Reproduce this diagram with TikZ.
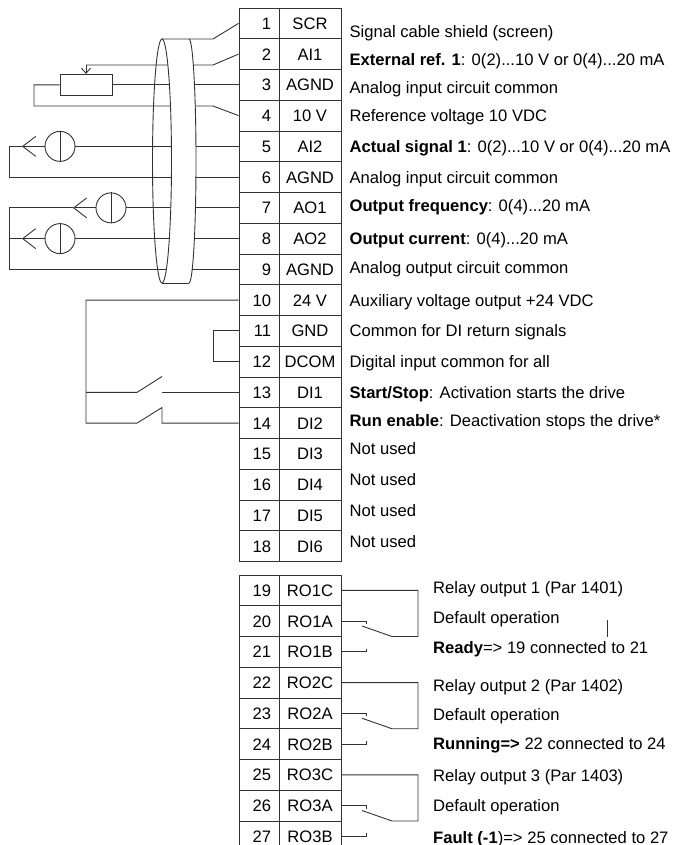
\documentclass[tikz,border=0pt]{standalone}
\usepackage{fontspec}
\setmainfont{Liberation Sans}
\usetikzlibrary{positioning,arrows.meta}

\tikzset{
  wire/.style={draw=black!80, line width=0.9pt},
  numcell/.style={draw=black!80, line width=0.9pt, minimum height=30.75pt, text width=24pt, inner xsep=8pt, align=right, text height=12pt, text depth=0pt},
  labcell/.style={draw=black!80, line width=0.9pt, minimum width=62pt, minimum height=30.75pt, inner xsep=0pt, text height=12pt, text depth=0pt},
  desc/.style={anchor=west, inner sep=0pt, text height=12pt, text depth=0pt},
  meter/.style={circle, draw=black!80, line width=0.9pt, minimum size=30pt, inner sep=0pt},
  pot/.style={rectangle, draw=black!80, line width=0.9pt, minimum width=52pt, minimum height=21pt, inner sep=0pt},
  barb/.style={-{Straight Barb[length=13pt,width=20pt]}},
}

\begin{document}
\begin{tikzpicture}[x=1pt, y=-1pt, every node/.style={font=\fontsize{16.6pt}{19pt}\selectfont}]
  \useasboundingbox (0,0) rectangle (676,845);

  % terminal block X1, 1...18
  \foreach \i/\lab in {1/SCR,2/AI1,3/AGND,4/10 V,5/AI2,6/AGND,7/AO1,8/AO2,9/AGND,10/24 V,11/GND,12/DCOM,13/DI1,14/DI2,15/DI3,16/DI4,17/DI5,18/DI6}{
    \pgfmathsetmacro\yc{8+(\i-0.5)*30.75}
    \node[numcell] (n\i) at (259,\yc) {\i};
    \node[labcell] (t\i) at (310,\yc) {\lab};
  }
  % relay block 19...27
  \foreach \i/\lab in {19/RO1C,20/RO1A,21/RO1B,22/RO2C,23/RO2A,24/RO2B,25/RO3C,26/RO3A,27/RO3B}{
    \pgfmathsetmacro\yc{575+(\i-18.5)*30.75}
    \node[numcell] (n\i) at (259,\yc) {\i};
    \node[labcell] (t\i) at (310,\yc) {\lab};
  }

  % descriptions
  \node[desc, right=8pt of t1, yshift=-8pt] {Signal cable shield (screen)};
  \node[desc, right=8pt of t2, yshift=-5pt] {\textbf{External ref. 1}: 0(2)...10 V or 0(4)...20 mA};
  \node[desc, right=8pt of t3, yshift=-3pt] {Analog input circuit common};
  \node[desc, right=8pt of t4] {Reference voltage 10 VDC};
  \node[desc, right=8pt of t5] {\textbf{Actual signal 1}: 0(2)...10 V or 0(4)...20 mA};
  \node[desc, right=8pt of t6] {Analog input circuit common};
  \node[desc, right=8pt of t7, yshift=2pt] {\textbf{Output frequency}: 0(4)...20 mA};
  \node[desc, right=8pt of t8] {\textbf{Output current}: 0(4)...20 mA};
  \node[desc, right=8pt of t9, yshift=2pt] {Analog output circuit common};
  \node[desc, right=8pt of t10] {Auxiliary voltage output +24 VDC};
  \node[desc, right=8pt of t11] {Common for DI return signals};
  \node[desc, right=8pt of t12] {Digital input common for all};
  \node[desc, right=8pt of t13] {\textbf{Start/Stop}: Activation starts the drive};
  \node[desc, right=8pt of t14, yshift=3pt] {\textbf{Run enable}: Deactivation stops the drive*};
  \node[desc, right=8pt of t15, yshift=5pt] {Not used};
  \node[desc, right=8pt of t16, yshift=5pt] {Not used};
  \node[desc, right=8pt of t17, yshift=5pt] {Not used};
  \node[desc, right=8pt of t18, yshift=5pt] {Not used};

  \node[desc] (r1a) at (433,587) {Relay output 1 (Par 1401)};
  \node[desc] (r1b) at (433,617) {Default operation};
  \node[desc] (r1c) at (433,647) {\textbf{Ready}=> 19 connected to 21};
  \node[desc] (r2a) at (433,685) {Relay output 2 (Par 1402)};
  \node[desc] (r2b) at (433,714) {Default operation};
  \node[desc] (r2c) at (433,743) {\textbf{Running=>} 22 connected to 24};
  \node[desc] (r3a) at (433,775) {Relay output 3 (Par 1403)};
  \node[desc] (r3b) at (433,805) {Default operation};
  \node[desc] (r3c) at (433,837) {\textbf{Fault (-1})=> 25 connected to 27};
  \draw[wire, line width=0.7pt] (607,620) -- (607,637);

  % potentiometer
  \node[pot] (pot) at (86,84.875) {};
  \coordinate (wip) at (86,65);
  \draw[wire, -{Straight Barb[length=5pt,width=9pt]}] (wip) -- (pot.north);
  \draw[wire] (wip) -- (213,65) -- (n2.west);
  \draw[wire] (pot.east) -- (n3.west);
  \draw[wire] (pot.west) -- (34,84.875) -- (34,106) -- (213,106) -- (n4.west);

  % meters
  \node[meter] (m5) at (60,146.375) {};
  \node[meter] (m7) at (111,207.875) {};
  \node[meter] (m8) at (60,238.625) {};
  \foreach \m in {m5,m7,m8}
    \draw[wire] (\m.north) -- (\m.south);
  \coordinate (a5) at (22,146.375);
  \coordinate (a7) at (73,207.875);
  \coordinate (a8) at (22,238.625);
  \draw[wire] (m5.east) -- (n5.west);
  \draw[wire, barb] (m5.west) -- (a5);
  \draw[wire] (a5) -- (9,146.375) |- (n6.west);
  \draw[wire] (m7.east) -- (n7.west);
  \draw[wire, barb] (m7.west) -- (a7);
  \draw[wire] (a7) -- (9,207.875) |- (n9.west);
  \draw[wire] (m8.east) -- (n8.west);
  \draw[wire, barb] (m8.west) -- (a8);
  \draw[wire] (a8) -- (9,238.625);

  % cable shield
  \fill[white] (162,39) -- (189,39) arc[start angle=90, end angle=-90, x radius=7pt, y radius=122pt]
    -- (162,283) arc[start angle=-90, end angle=90, x radius=9.5pt, y radius=122pt] -- cycle;
  \draw[wire] (162,161) ellipse[x radius=9.5pt, y radius=122pt];
  \draw[wire] (189,39) arc[start angle=90, end angle=-90, x radius=7pt, y radius=122pt];
  \draw[wire] (162,283) -- (189,283);
  \draw[wire] (162,39) -- (213,39) -- (n1.west);

  % digital inputs
  \draw[wire] (n10.west) -| (86,423.125) -- (137,423.125) -- (162,407.5) -- (162,423.125) -- (n14.west);
  \draw[wire] (86,392.375) -- (137,392.375) -- (162,376.5);
  \draw[wire] (162,392.375) -- (n13.west);
  \draw[wire] (n11.west) -- (213,330.875) |- (n12.west);

  % relay outputs
  \foreach \r in {19,22,25}{
    \pgfmathtruncatemacro\ra{\r+1}
    \pgfmathtruncatemacro\rb{\r+2}
    \pgfmathsetmacro\yp{575+(\r-17)*30.75}
    \draw[wire] (t\r.east) -| (418,\yp) -- (392,\yp) -- (362,\yp-10.5);
    \draw[wire] (t\ra.east) -- ++(25,0) -- ++(0,3);
    \draw[wire] (t\rb.east) -- ++(25,0) -- ++(0,-3);
  }
\end{tikzpicture}
\end{document}
